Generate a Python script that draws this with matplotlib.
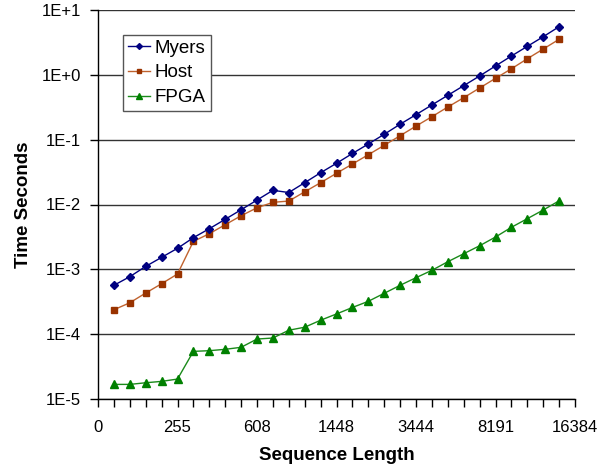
import numpy as np
import matplotlib
matplotlib.use("Agg")
import matplotlib.pyplot as plt
from matplotlib.ticker import FixedLocator, FixedFormatter, NullLocator

plt.rcParams['font.family'] = ['Liberation Sans', 'DejaVu Sans']

# category labels shown every 5 categories (positions 0..30)
x_tick_labels = ['0', '255', '608', '1448', '3444', '8191', '16384']
x_label_pos = [0, 5, 10, 15, 20, 25, 30]
n_categories = 30
point_pos = np.arange(1, 30)

myers = [5.67e-4, 7.7e-4, 1.11e-3, 1.53e-3, 2.11e-3, 3.08e-3, 4.23e-3, 5.91e-3,
         8.3e-3, 0.0117, 0.01655, 0.0153, 0.0217, 0.0309, 0.0432, 0.0612, 0.0857,
         0.121, 0.173, 0.243, 0.343, 0.483, 0.68, 0.96, 1.37, 1.95, 2.75, 3.87, 5.53]
host = [2.38e-4, 3.05e-4, 4.31e-4, 6.0e-4, 8.47e-4, 2.70e-3, 3.54e-3, 4.88e-3,
        6.71e-3, 8.9e-3, 0.0108, 0.0113, 0.0157, 0.0217, 0.0303, 0.0421, 0.0586,
        0.0818, 0.115, 0.162, 0.226, 0.319, 0.444, 0.626, 0.883, 1.24, 1.77, 2.50, 3.53]
fpga = [1.68e-5, 1.68e-5, 1.78e-5, 1.87e-5, 2.03e-5, 5.43e-5, 5.56e-5, 5.84e-5,
        6.27e-5, 8.41e-5, 8.72e-5, 1.15e-4, 1.28e-4, 1.64e-4, 2.05e-4, 2.58e-4,
        3.21e-4, 4.27e-4, 5.67e-4, 7.43e-4, 9.66e-4, 1.31e-3, 1.74e-3, 2.31e-3,
        3.15e-3, 4.45e-3, 6.04e-3, 8.22e-3, 0.0114]
y_ticks = [1e-5, 1e-4, 1e-3, 1e-2, 1e-1, 1e0, 1e1]
y_tick_labels = ['1E-5', '1E-4', '1E-3', '1E-2', '1E-1', '1E+0', '1E+1']

W, H = 612, 470
fig = plt.figure(figsize=(W / 100, H / 100), dpi=100)
ax = fig.add_axes([98 / W, 1 - 399 / H, (575 - 98) / W, (399 - 10) / H])

ax.plot(point_pos, myers, color='#000080', lw=1.0, marker='D', ms=4.3,
        mfc='#000080', mec='#000080', label='Myers', zorder=4)
ax.plot(point_pos, host, color='#c0622e', lw=1.0, marker='s', ms=5.0,
        mfc='#993300', mec='#993300', label='Host', zorder=3)
ax.plot(point_pos, fpga, color='#1a8a1a', lw=1.0, marker='^', ms=5.2,
        mfc='#008000', mec='#008000', label='FPGA', zorder=3)

ax.set_yscale('log')
ax.set_ylim(1e-5, 10)
ax.set_xlim(0, n_categories)
ax.yaxis.set_major_locator(FixedLocator(y_ticks))
ax.yaxis.set_major_formatter(FixedFormatter(y_tick_labels))
ax.yaxis.set_minor_locator(NullLocator())
ax.xaxis.set_major_locator(FixedLocator(x_label_pos))
ax.xaxis.set_major_formatter(FixedFormatter(x_tick_labels))
ax.xaxis.set_minor_locator(FixedLocator(list(range(0, n_categories + 1))))

ax.tick_params(axis='both', which='both', direction='out', length=6, width=1,
               color='#000000', labelsize=12, labelcolor='#000000')
ax.tick_params(axis='x', pad=9)
ax.tick_params(axis='y', pad=6)

ax.grid(axis='y', which='major', color='#333333', lw=1.0)
ax.set_axisbelow(True)
for s in ['top', 'right']:
    ax.spines[s].set_visible(False)
for s in ['left', 'bottom']:
    ax.spines[s].set_color('#000000')
    ax.spines[s].set_linewidth(1.0)

ax.set_ylabel('Time Seconds', fontsize=13.5, fontweight='bold', labelpad=7)
ax.set_xlabel('Sequence Length', fontsize=13.5, fontweight='bold', labelpad=9)

leg = ax.legend(loc='upper left', bbox_to_anchor=(123 / W, 1 - 35 / H),
                bbox_transform=fig.transFigure, fontsize=13.5, frameon=True,
                fancybox=False, framealpha=1, edgecolor='#555555',
                handlelength=1.2, handletextpad=0.25, borderpad=0.25,
                labelspacing=0.4, markerscale=0.7, borderaxespad=0)
leg.get_frame().set_linewidth(1.0)

fig.savefig('out.png', dpi=100)
